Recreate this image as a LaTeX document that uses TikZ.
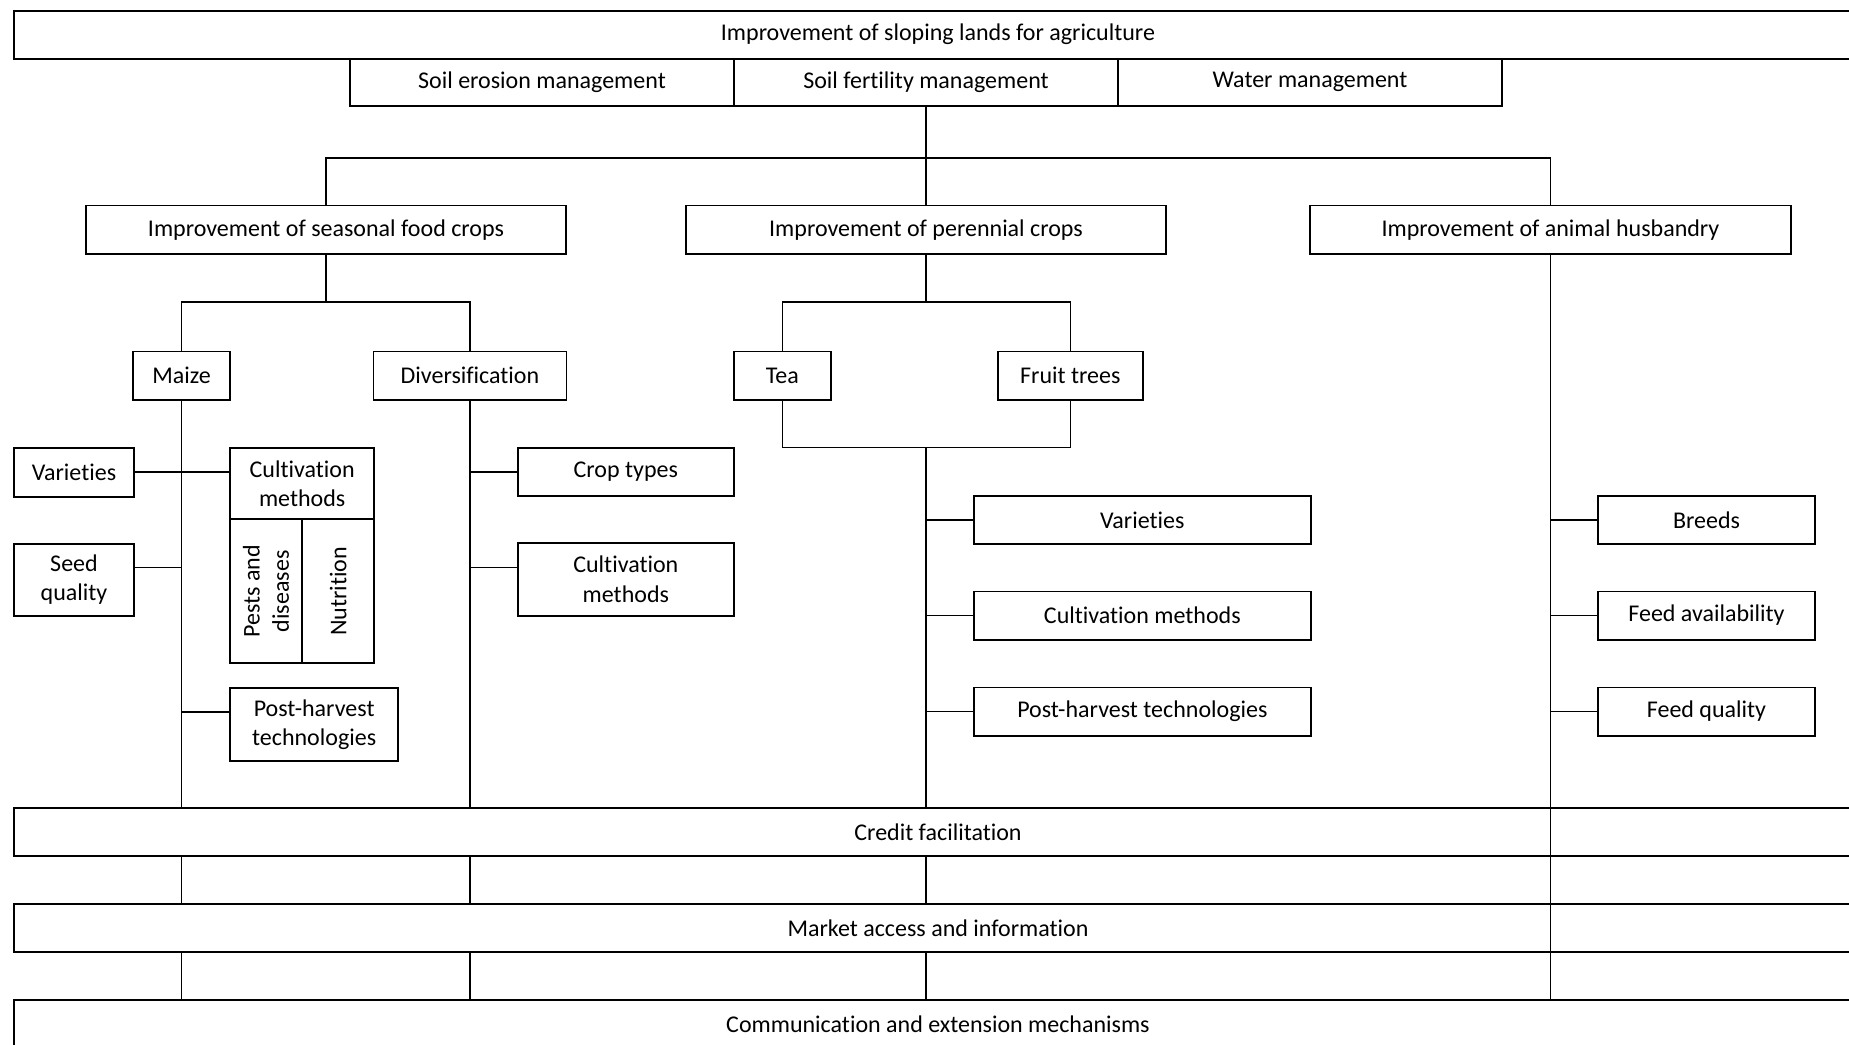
\documentclass[tikz,border=0pt]{standalone}
\usepackage{fontspec}
\setmainfont{Carlito}[RawFeature={-liga;-clig;-dlig;-calt}]
\newcommand\diafont{\fontsize{12}{14.6}\selectfont}
\tikzset{
  bx/.style={draw, line width=0.85pt, inner sep=0pt, outer sep=0pt, align=center, font=\diafont},
  widebox/.style={bx, line width=1pt, minimum width=924pt, minimum height=24pt},
  ln/.style={line width=0.8pt},
}
\begin{document}
\begin{tikzpicture}[x=0.5pt, y=-0.5pt]
\useasboundingbox (0,0) rectangle (1849,1045);
\clip (0,0) rectangle (1849,1045);
\fill[white] (0,0) rectangle (1849,1045);

% wide boxes
\node[widebox] (top) at (938,34.5) {Improvement of sloping lands for agriculture};
\node[widebox, minimum height=24.15pt] (credit) at (938,831.85) {Credit facilitation};
\node[widebox, minimum height=24.15pt] (market) at (938,927.85) {Market access and information};
\node[widebox] (comm) at (938,1024) {Communication and extension mechanisms};

% second row
\node[bx, minimum width=192pt, minimum height=23.75pt] (soilE) at (542,82.25) {Soil erosion management};
\node[bx, minimum width=192pt, minimum height=23.75pt] (soilF) at (926,82.25) {Soil fertility management};
\node[bx, minimum width=192pt, minimum height=23.75pt] (water) at (1310,82.25) {Water management};

% third row
\node[bx, minimum width=240pt, minimum height=24.25pt] (seasonal) at (326,229.75) {Improvement of seasonal food crops};
\node[bx, minimum width=240pt, minimum height=24.25pt] (perennial) at (926,229.75) {Improvement of perennial crops};
\node[bx, minimum width=240.8pt, minimum height=24.25pt] (animal) at (1550.5,229.75) {Improvement of animal husbandry};

% fourth row
\node[bx, minimum width=48.5pt, minimum height=24.25pt] (maize) at (181.6,375.75) {Maize};
\node[bx, minimum width=96.5pt, minimum height=24.25pt] (divers) at (470,375.75) {Diversification};
\node[bx, minimum width=48.35pt, minimum height=24.25pt] (tea) at (782.3,375.75) {Tea};
\node[bx, minimum width=72.65pt, minimum height=24.25pt] (fruit) at (1070.3,375.75) {Fruit trees};

% maize column
\node[bx, minimum width=60.3pt, minimum height=24.5pt] (varM) at (74,472.2) {Varieties};
\node[bx, minimum width=72.15pt, minimum height=35.8pt] (cultM) at (302.15,483.5) {Cultivation\\methods};
\node[bx, rotate=90, minimum width=72pt, minimum height=36pt] (pests) at (266,591.3) {Pests and\\diseases};
\node[bx, rotate=90, minimum width=72pt, minimum height=36.15pt] (nutr) at (338.15,591.3) {Nutrition};
\node[bx, minimum width=60.3pt, minimum height=35.85pt] (seedM) at (74,579.85) {Seed\\quality};
\node[bx, minimum width=84.15pt, minimum height=36.65pt] (postM) at (314.15,724.35) {Post-harvest\\technologies};

% diversification column
\node[bx, minimum width=108.15pt, minimum height=24.15pt] (crop) at (625.85,471.85) {Crop types};
\node[bx, minimum width=108.15pt, minimum height=36.5pt] (cultD) at (625.85,579.2) {Cultivation\\methods};

% perennial column
\node[bx, minimum width=168.35pt, minimum height=24.15pt] (varP) at (1142.35,519.85) {Varieties};
\node[bx, minimum width=168.35pt, minimum height=24.15pt] (cultP) at (1142.35,615.5) {Cultivation methods};
\node[bx, minimum width=168.35pt, minimum height=24.15pt] (postP) at (1142.35,711.5) {Post-harvest technologies};

% animal column
\node[bx, minimum width=108.5pt, minimum height=24.15pt] (breeds) at (1706.5,519.85) {Breeds};
\node[bx, minimum width=108.5pt, minimum height=24.15pt] (feedA) at (1706.5,615.5) {Feed availability};
\node[bx, minimum width=108.5pt, minimum height=24.15pt] (feedQ) at (1706.5,711.5) {Feed quality};

% bus coordinates
\coordinate (b1) at (926,157.7);
\coordinate (b2) at (326,302);
\coordinate (b3) at (926,302);
\coordinate (b4) at (926,447.3);
\coordinate (m2) at (181.6,567.5);
\coordinate (m3) at (181.6,711.7);
\coordinate (d2) at (470,567.5);

% connectors
\draw[ln] (soilF.south) -- (b1);
\draw[ln] (seasonal.north) |- (b1) -| (animal.north);
\draw[ln] (b1) -- (perennial.north);

\draw[ln] (seasonal.south) -- (b2);
\draw[ln] (maize.north) |- (b2) -| (divers.north);

\draw[ln] (perennial.south) -- (b3);
\draw[ln] (tea.north) |- (b3) -| (fruit.north);
\draw[ln] (tea.south) |- (b4) -| (fruit.south);
\draw[ln] (b4) -- (b4 |- credit.north);

\draw[ln] (maize.south) -- (maize.south |- credit.north);
\draw[ln] (varM.east) -- (varM.east -| cultM.west);
\draw[ln] (m2) -- (m2 -| seedM.east);
\draw[ln] (m3) -- (m3 -| postM.west);

\draw[ln] (divers.south) -- (divers.south |- credit.north);
\draw[ln] (crop.west) -- (crop.west -| divers.south);
\draw[ln] (d2) -- (d2 -| cultD.west);

\draw[ln] (varP.west) -- (varP.west -| b4);
\draw[ln] (cultP.west) -- (cultP.west -| b4);
\draw[ln] (postP.west) -- (postP.west -| b4);

\draw[ln] (animal.south) -- (animal.south |- comm.north);
\draw[ln] (breeds.west) -- (breeds.west -| animal.south);
\draw[ln] (feedA.west) -- (feedA.west -| animal.south);
\draw[ln] (feedQ.west) -- (feedQ.west -| animal.south);

\foreach \col in {maize.south, divers.south, b4} {
  \draw[ln] (credit.south -| \col) -- (market.north -| \col);
  \draw[ln] (market.south -| \col) -- (comm.north -| \col);
}
\end{tikzpicture}
\end{document}
